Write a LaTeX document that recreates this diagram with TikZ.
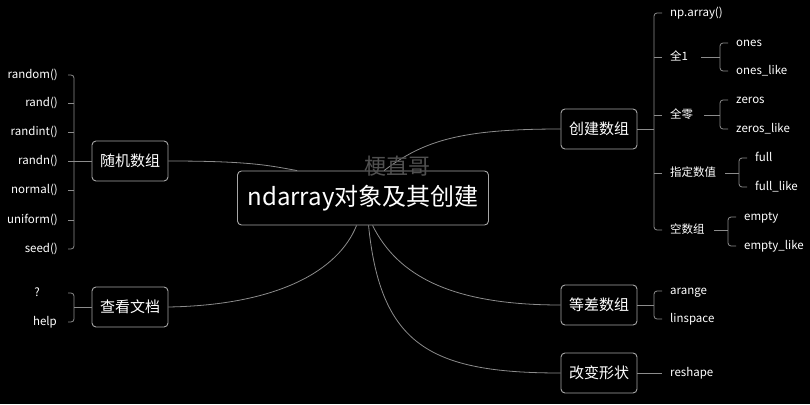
\documentclass[tikz,border=0pt]{standalone}
\usepackage{fontspec}
\setmainfont{Noto Sans CJK SC}
\usepackage{xcolor}
\usepackage{tikz}
\definecolor{linkgray}{HTML}{8C8C8C}
\definecolor{framegray}{HTML}{A6A6A6}
\definecolor{markgray}{HTML}{505050}
\tikzstyle{rootbox} = [draw=framegray, fill=black, text=white, line width=0.9pt,
rectangle, rounded corners=4pt, minimum width=251pt, minimum height=54pt,
font=\fontsize{24}{28}\selectfont]
\tikzstyle{topicbox} = [draw=framegray, fill=black, text=white, line width=0.9pt,
rectangle, rounded corners=4pt, minimum width=76pt, minimum height=40pt,
font=\fontsize{15}{18}\selectfont]
\tikzstyle{leaf} = [text=white, inner sep=1pt, text height=9pt, text depth=2.5pt,
font=\fontsize{11.5}{14}\selectfont]
\tikzstyle{link} = [draw=linkgray, line width=0.8pt]
\tikzstyle{brace} = [link, rounded corners=3pt]
\begin{document}
\begin{tikzpicture}[x=1pt,y=-1pt]
        \fill[black] (0,0) rectangle (810,404);
        \useasboundingbox (0,0) rectangle (810,404);
        % main topics
        \node[rootbox] (root) at (363,198) {ndarray对象及其创建};
        \node[topicbox] (rand) at (130,161) {随机数组};
        \node[topicbox] (doc) at (130,307) {查看文档};
        \node[topicbox] (create) at (599,129) {创建数组};
        \node[topicbox] (arange) at (599,305) {等差数组};
        \node[topicbox] (shape) at (599,373) {改变形状};
        % left leaves
        \node[leaf, anchor=east] (random) at (59,75) {random()};
        \node[leaf, anchor=east] (randf) at (59,103) {rand()};
        \node[leaf, anchor=east] (randint) at (59,132) {randint()};
        \node[leaf, anchor=east] (randn) at (59,161) {randn()};
        \node[leaf, anchor=east] (normal) at (59,190) {normal()};
        \node[leaf, anchor=east] (uniform) at (59,220) {uniform()};
        \node[leaf, anchor=east] (seed) at (59,249) {seed()};
        \node[leaf, anchor=east] (quest) at (41,293) {?};
        \node[leaf, anchor=east] (help) at (58,322) {help};
        % right leaves
        \node[leaf, anchor=west] (nparray) at (669,13) {np.array()};
        \node[leaf, anchor=west] (one) at (669,57) {全1};
        \node[leaf, anchor=west] (zero) at (669,115) {全零};
        \node[leaf, anchor=west] (fixed) at (669,173) {指定数值};
        \node[leaf, anchor=west] (void) at (669,230) {空数组};
        \node[leaf, anchor=west] (ones) at (735,43) {ones};
        \node[leaf, anchor=west] (oneslike) at (735,71) {ones\_like};
        \node[leaf, anchor=west] (zeros) at (735,100) {zeros};
        \node[leaf, anchor=west] (zeroslike) at (735,129) {zeros\_like};
        \node[leaf, anchor=west] (full) at (754,158) {full};
        \node[leaf, anchor=west] (fulllike) at (754,187) {full\_like};
        \node[leaf, anchor=west] (empty) at (743,217) {empty};
        \node[leaf, anchor=west] (emptylike) at (743,246) {empty\_like};
        \node[leaf, anchor=west] (arangef) at (669,291) {arange};
        \node[leaf, anchor=west] (linspace) at (669,319) {linspace};
        \node[leaf, anchor=west] (reshape) at (669,373) {reshape};
        % bracket corners
        \coordinate (randbr) at ([xshift=15pt]random.east);
        \coordinate (docbr) at ([xshift=16pt]help.east);
        \coordinate (createbr) at ([xshift=-15pt]nparray.west);
        \coordinate (onebr) at ([xshift=-15pt]ones.west);
        \coordinate (zerobr) at ([xshift=-15pt]zeros.west);
        \coordinate (fixedbr) at ([xshift=-15pt]full.west);
        \coordinate (voidbr) at ([xshift=-15pt]empty.west);
        \coordinate (arangebr) at ([xshift=-15pt]arangef.west);
        % curves from the root
        \draw[link] (rand.east) .. controls +(82,0) and +(-28,-5) .. ([xshift=60pt]root.north west);
        \draw[link] ([xshift=147pt]root.north west) .. controls +(40,-30) and +(-100,0) .. (create.west);
        \draw[link] (doc.east) .. controls +(110,-2) and +(-18,45) .. ([xshift=119.5pt]root.south west);
        \draw[link] ([xshift=135.5pt]root.south west) .. controls +(25,50) and +(-110,0) .. (arange.west);
        \draw[link] ([xshift=131.5pt]root.south west) .. controls +(12,120) and +(-130,0) .. (shape.west);
        % left brackets
        \draw[brace] ([xshift=9pt]random.east) -- (randbr) -- (randbr |- seed) -- ([xshift=9pt]seed.east);
        \draw[link] ([xshift=9pt]randf.east) -- (randbr |- randf);
        \draw[link] ([xshift=9pt]randint.east) -- (randbr |- randint);
        \draw[link] ([xshift=9pt]normal.east) -- (randbr |- normal);
        \draw[link] ([xshift=9pt]uniform.east) -- (randbr |- uniform);
        \draw[link] ([xshift=9pt]randn.east) -- (rand.west);
        \draw[brace] ([xshift=10pt]help.east |- quest) -- (docbr |- quest) -- (docbr) -- ([xshift=10pt]help.east);
        \draw[link] (docbr |- doc) -- (doc.west);
        % right brackets
        \draw[link] (create.east) -- (createbr |- create);
        \draw[brace] ([xshift=-7pt]nparray.west) -- (createbr) -- (createbr |- void) -- ([xshift=-7pt]void.west);
        \draw[link] ([xshift=-7pt]one.west) -- (createbr |- one);
        \draw[link] ([xshift=-7pt]zero.west) -- (createbr |- zero);
        \draw[link] ([xshift=-7pt]fixed.west) -- (createbr |- fixed);
        \draw[link] ([xshift=12pt]one.east) -- (onebr |- one);
        \draw[brace] ([xshift=-7pt]ones.west) -- (onebr) -- (onebr |- oneslike) -- ([xshift=-7pt]oneslike.west);
        \draw[link] ([xshift=10pt]zero.east) -- (zerobr |- zero);
        \draw[brace] ([xshift=-7pt]zeros.west) -- (zerobr) -- (zerobr |- zeroslike) -- ([xshift=-7pt]zeroslike.west);
        \draw[link] ([xshift=8pt]fixed.east) -- (fixedbr |- fixed);
        \draw[brace] ([xshift=-7pt]full.west) -- (fixedbr) -- (fixedbr |- fulllike) -- ([xshift=-7pt]fulllike.west);
        \draw[link] ([xshift=8pt]void.east) -- (voidbr |- void);
        \draw[brace] ([xshift=-7pt]empty.west) -- (voidbr) -- (voidbr |- emptylike) -- ([xshift=-7pt]emptylike.west);
        \draw[link] (arange.east) -- (arangebr |- arange);
        \draw[brace] ([xshift=-7pt]arangef.west) -- (arangebr) -- (arangebr |- linspace) -- ([xshift=-7pt]linspace.west);
        \draw[link] (shape.east) -- ([xshift=-7pt]reshape.west);
        % watermark
        \node[text=markgray, font=\fontsize{22}{26}\selectfont] (mark) at (397,166) {梗直哥};
    \end{tikzpicture}
\end{document}
